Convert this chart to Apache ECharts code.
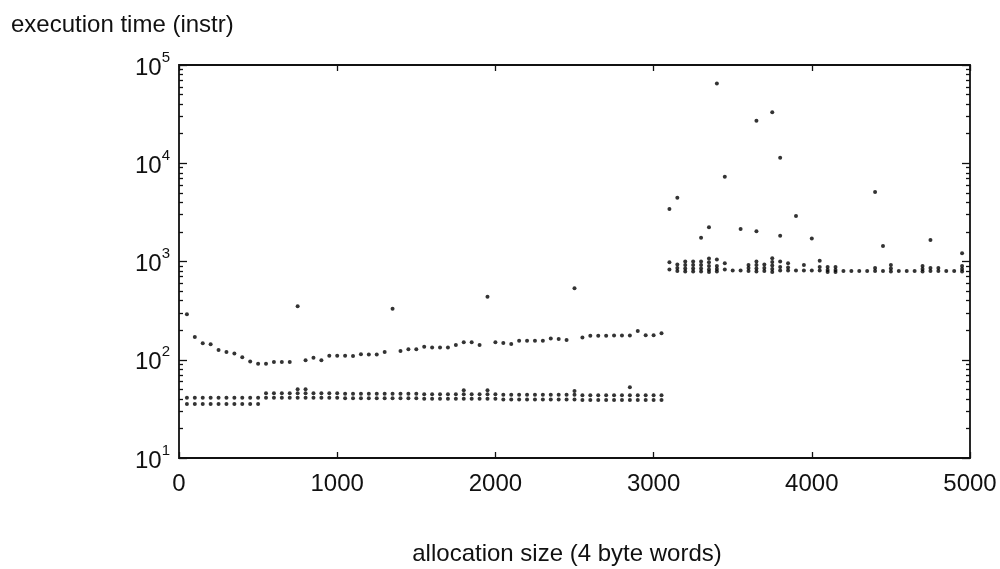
<!DOCTYPE html>
<html>
<head>
<meta charset="utf-8">
<script src="https://cdn.jsdelivr.net/npm/echarts@6/dist/echarts.min.js"></script>
<style>
  html, body { margin: 0; padding: 0; background: #fff; }
  #chart { width: 1000px; height: 569px; }
</style>
</head>
<body>
<div id="chart"></div>
<script>
// Allocation sizes (4 byte words) measured below 3100 words
const smallSizes = [50, 100, 150, 200, 250, 300, 350, 400, 450, 500,
  550, 600, 650, 700, 750, 800, 850, 900, 950, 1000,
  1050, 1100, 1150, 1200, 1250, 1300, 1350, 1400, 1450, 1500,
  1550, 1600, 1650, 1700, 1750, 1800, 1850, 1900, 1950, 2000,
  2050, 2100, 2150, 2200, 2250, 2300, 2350, 2400, 2450, 2500,
  2550, 2600, 2650, 2700, 2750, 2800, 2850, 2900, 2950, 3000, 3050];

// Slow path (instructions)
const slowTimes = [290, 170, 147, 144, 126, 120, 116, 106, 96, 91,
  91, 95, 95, 95, 350, 99, 105, 99, 110, 110,
  110, 109, 114, 113, 113, 120, 331, 123, 128, 128,
  136, 133, 133, 133, 141, 151, 151, 141, 438, 151,
  148, 145, 156, 156, 156, 156, 165, 163, 159, 533,
  168, 175, 175, 175, 177, 177, 177, 196, 178, 178, 186];

// Fast path, upper and lower rows (instructions)
const fastTimesA = [41, 41, 41, 41, 41, 41, 41, 41, 41, 41,
  45.5, 45.5, 45.5, 45.5, 45.5, 45.5, 45.5, 45.5, 45.5, 45.5,
  45, 45, 45, 45, 45, 45, 45, 45, 45, 45,
  44.5, 44.5, 44.5, 44.5, 44.5, 44.5, 44.5, 44.5, 44.5, 44.5,
  44, 44, 44, 44, 44, 44, 44, 44, 44, 44,
  43.5, 43.5, 43.5, 43.5, 43.5, 43.5, 43.5, 43.5, 43.5, 43.5, 43.5];
const fastTimesB = [35.5, 35.5, 35.5, 35.5, 35.5, 35.5, 35.5, 35.5, 35.5, 35.5,
  41, 41, 41, 41, 41, 41, 41, 41, 41, 41,
  40.5, 40.5, 40.5, 40.5, 40.5, 40.5, 40.5, 40.5, 40.5, 40.5,
  40, 40, 40, 40, 40, 40, 40, 40, 40, 40,
  39.5, 39.5, 39.5, 39.5, 39.5, 39.5, 39.5, 39.5, 39.5, 39.5,
  39, 39, 39, 39, 39, 39, 39, 39, 39, 39, 39];
const fastExtra = [[750, 50], [800, 50], [1800, 49], [1950, 49], [2500, 48], [2850, 52.5]];

// Allocation sizes from 3100 words upward
const largeSizes = [3100, 3150, 3200, 3250, 3300, 3350, 3400, 3450, 3500, 3550,
  3600, 3650, 3700, 3750, 3800, 3850, 3900, 3950, 4000, 4050,
  4100, 4150, 4200, 4250, 4300, 4350, 4400, 4450, 4500, 4550,
  4600, 4650, 4700, 4750, 4800, 4850, 4900, 4950];

// Repeated measurements at each large size (instructions)
const largeTimes = [
  [980, 830], [930, 860, 800], [1000, 920, 850, 790], [1000, 920, 850, 790],
  [1000, 920, 850, 790], [1070, 980, 900, 830, 780], [1050, 900, 840, 790], [960, 830],
  [810], [810], [920, 860, 800], [1000, 920, 850, 790],
  [930, 860, 800], [1080, 990, 910, 840, 780], [1000, 880, 810], [960, 870, 810],
  [810], [920, 810], [810], [1020, 880, 810],
  [880, 820, 780], [880, 820, 780], [800], [800],
  [800], [800], [860, 800], [800],
  [920, 850, 790], [800], [800], [800],
  [900, 840, 790], [860, 800], [860, 800], [800],
  [800], [900, 840, 790]
];

// Isolated slow measurements at large sizes [size, instructions]
const largeOutliers = [[3100, 3420], [3150, 4460], [3300, 1745], [3350, 2230],
  [3400, 65000], [3450, 7300], [3550, 2140], [3650, 27100], [3650, 2030],
  [3750, 33000], [3800, 11400], [3800, 1830], [3900, 2900], [4000, 1710],
  [4400, 5090], [4450, 1440], [4750, 1655], [4950, 1211]];

// Axis ticks
const xTicks = [0, 1000, 2000, 3000, 4000, 5000];
const decades = [10, 100, 1000, 10000, 100000];
const minorSteps = [2, 3, 4, 5, 6, 7, 8, 9];

const FONT = '"Liberation Sans", Arial, Helvetica, sans-serif';
const INK = '#111';
const FS = 24;

const minorTickValues = [];
decades.slice(0, -1).forEach(d => minorSteps.forEach(m => minorTickValues.push(m * d)));

const pairs = (xs, ys) => xs.map((x, i) => [x, ys[i]]);
const clusterPoints = [];
largeSizes.forEach((x, i) => largeTimes[i].forEach(v => clusterPoints.push([x, v])));

const dotSeries = (data) => ({
  type: 'scatter', data, symbol: 'circle', symbolSize: 4,
  itemStyle: { color: '#000' }, silent: true, animation: false
});

function yAxisDef(position, tickLen, custom, withLabels) {
  const ax = {
    type: 'log', logBase: 10, min: decades[0], max: decades[decades.length - 1],
    position, offset: 0,
    axisLine: { show: false },
    splitLine: { show: false },
    axisTick: { show: true, inside: true, length: tickLen, lineStyle: { color: INK, width: 1.3 } },
    axisLabel: { show: false }
  };
  if (custom) ax.axisTick.customValues = custom;
  if (withLabels) {
    ax.axisLabel = {
      show: true, margin: 9,
      formatter: v => '{b|10}{e|' + Math.round(Math.log10(v)) + '}',
      rich: {
        b: { fontSize: FS, fontFamily: FONT, color: INK, lineHeight: 30, verticalAlign: 'bottom' },
        e: { fontSize: 15, fontFamily: FONT, color: INK, lineHeight: 30, verticalAlign: 'top' }
      }
    };
  }
  return ax;
}

const chart = echarts.init(document.getElementById('chart'), null, { renderer: 'canvas' });
chart.setOption({
  backgroundColor: '#fff',
  animation: false,
  title: {
    text: 'execution time (instr)', left: 6, top: 8,
    textStyle: { fontSize: FS, fontWeight: 'normal', fontFamily: FONT, color: INK }
  },
  grid: {
    left: 179, right: 30, top: 65, bottom: 111,
    show: true, borderColor: INK, borderWidth: 1.8,
    containLabel: false, outerBoundsMode: 'none'
  },
  xAxis: [
    {
      type: 'value', min: xTicks[0], max: xTicks[xTicks.length - 1], interval: 1000,
      position: 'bottom',
      axisLine: { show: false }, splitLine: { show: false },
      axisTick: { show: true, inside: true, length: 6, lineStyle: { color: INK, width: 1.3 } },
      axisLabel: { fontSize: FS, fontFamily: FONT, color: INK, margin: 14, formatter: v => String(v) },
      name: 'allocation size (4 byte words)', nameLocation: 'middle', nameGap: 84,
      nameTextStyle: { fontSize: FS, fontFamily: FONT, color: INK, padding: [0, 15, 0, 0] }
    },
    {
      type: 'value', min: xTicks[0], max: xTicks[xTicks.length - 1], interval: 1000,
      position: 'top',
      axisLine: { show: false }, splitLine: { show: false },
      axisTick: { show: true, inside: true, length: 6, lineStyle: { color: INK, width: 1.3 } },
      axisLabel: { show: false }
    }
  ],
  yAxis: [
    yAxisDef('left', 8, null, true),
    yAxisDef('left', 4, minorTickValues, false),
    yAxisDef('right', 8, null, false),
    yAxisDef('right', 4, minorTickValues, false)
  ],
  series: [
    dotSeries(pairs(smallSizes, slowTimes)),
    dotSeries(pairs(smallSizes, fastTimesA)),
    dotSeries(pairs(smallSizes, fastTimesB)),
    dotSeries(fastExtra),
    dotSeries(clusterPoints),
    dotSeries(largeOutliers)
  ]
});
</script>
</body>
</html>
